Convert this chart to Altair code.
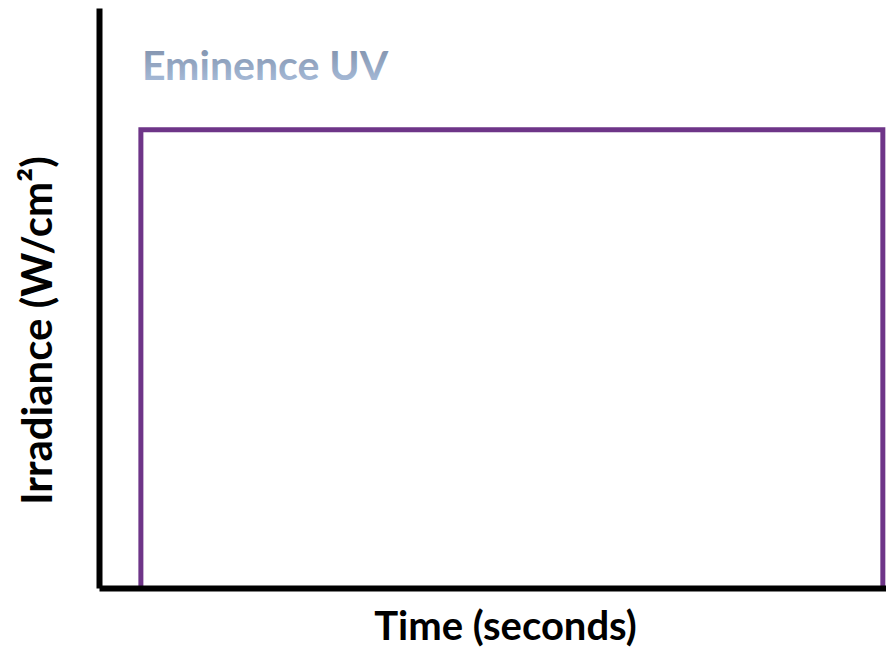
import altair as alt
import pandas as pd

# Pulse profile (time in arbitrary units, irradiance in arbitrary units)
time = [5.3, 5.3, 99.2, 99.2]
irradiance = [0, 79, 79, 0]
order = [0, 1, 2, 3]

title_text = ["Eminence UV"]
x_title = "Time (seconds)"
y_title = "Irradiance (W/cm²)"

df = pd.DataFrame({"time": time, "irradiance": irradiance, "order": order})
df_title = pd.DataFrame({"label": title_text})

FONT = "Lato"
PURPLE = "#6E3588"

line = alt.Chart(df).mark_line(
    color=PURPLE, strokeWidth=5, strokeJoin="miter", strokeCap="butt"
).encode(
    x=alt.X("time:Q", scale=alt.Scale(domain=[0, 99.6], nice=False, zero=False),
            axis=alt.Axis(title=x_title, grid=False, ticks=False, labels=False,
                          domainColor="black", domainWidth=6, zindex=1,
                          titleFont=FONT, titleFontSize=40, titleFontWeight="bold",
                          titleColor="black", titleBaseline="alphabetic",
                          titlePadding=51, titleX=406)),
    y=alt.Y("irradiance:Q", scale=alt.Scale(domain=[0, 100], nice=False),
            axis=alt.Axis(title=y_title, grid=False, ticks=False, labels=False,
                          domainColor="black", domainWidth=6, zindex=1,
                          titleFont=FONT, titleFontSize=42, titleFontWeight="bold",
                          titleColor="black", titlePadding=39, titleY=322)),
    order="order:O",
)

label = alt.Chart(df_title).mark_text(
    font=FONT, fontSize=41, fontWeight="bold", align="left", baseline="alphabetic",
    fill=alt.LinearGradient(gradient="linear", x1=0, y1=0, x2=0, y2=1,
                            stops=[alt.GradientStop(color="#7B8BA5", offset=0),
                                   alt.GradientStop(color="#ADC2E0", offset=1)]),
).encode(
    text="label:N",
    x=alt.value(43),
    y=alt.value(72),
)

chart = alt.layer(line, label).properties(
    width=787, height=580,
    autosize=alt.AutoSizeParams(type="none"),
    padding={"left": 91, "top": 0, "right": 0, "bottom": 62},
).configure_view(stroke=None)

chart.save("out.html", embed_options={"renderer": "svg", "actions": False})
